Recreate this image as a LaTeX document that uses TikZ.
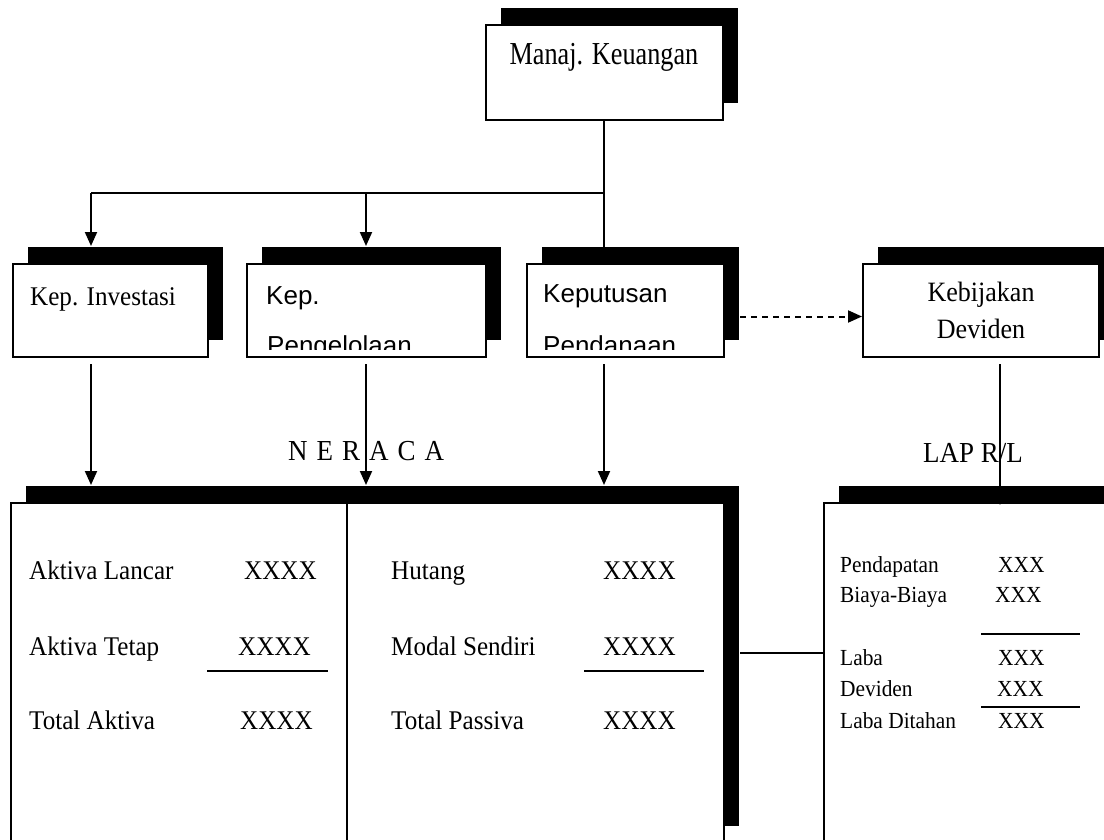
\documentclass[tikz,border=0pt]{standalone}
\usepackage{fontspec}
\setmainfont{Liberation Serif}[FakeStretch=0.93]
\newfontfamily\narrowfam{Liberation Serif}[FakeStretch=0.82]
\newfontfamily\sansfam{Liberation Sans}
\usetikzlibrary{arrows.meta,shadows,calc}

\newcommand{\fsz}[1]{\fontsize{#1}{#1}\selectfont}

\begin{document}
\begin{tikzpicture}[x=1pt,y=-1pt,
  line/.style={line width=2pt},
  arr/.style={line width=2pt,-{Triangle[length=14pt,width=12pt]}},
  card/.style={draw,line width=2pt,fill=white,anchor=north west,inner sep=0pt,
    drop shadow={shadow xshift=15pt,shadow yshift=17pt,fill=black,opacity=1}},
  lbl/.style={anchor=base west,inner sep=0pt,font=\fsz{27}},
  slbl/.style={anchor=base west,inner sep=0pt,font=\sansfam\fsz{26}},
  clbl/.style={anchor=base,inner sep=0pt,font=\fsz{28}},
  rl/.style={anchor=base west,inner sep=0pt,font=\fsz{23}},
  head/.style={anchor=base west,inner sep=0pt,font=\fsz{29}},
  rule/.style={line width=2.8pt}
]
\clip (0,0) rectangle (1104,840);

% boxes with their black drop shadows
\node[card,minimum width=237pt,minimum height=95pt] (mk) at (485,24) {};
\node[card,minimum width=195pt,minimum height=93pt] (inv) at (12,263) {};
\node[card,minimum width=239pt,minimum height=93pt] (peng) at (246,263) {};
\node[card,minimum width=197pt,minimum height=93pt] (kep) at (526,263) {};
\node[card,minimum width=236pt,minimum height=93pt] (keb) at (862,263) {};
\node[card,minimum width=713pt,minimum height=340pt] (neraca) at (10,502) {};
\node[card,minimum width=300pt,minimum height=340pt] (lap) at (823,502) {};

% box titles
\node[anchor=base,inner sep=0pt,font=\narrowfam\fsz{32}] (tmk) at (604,65) {Manaj. Keuangan};
\node[lbl] (tinv) at (30,305) {Kep. Investasi};
\node[slbl] (tpeng) at (266,304) {Kep.};
\node[slbl] (tkep) at (543,302) {Keputusan};
\node[clbl] (tkeb1) at (981,301) {Kebijakan};
\node[clbl] (tkeb2) at (981,338) {Deviden};

% second lines, cut off a little above the lower box edge
\begin{scope}
  \clip ([shift={(1pt,-1pt)}]peng.north west) rectangle ([shift={(-1pt,9pt)}]peng.south east);
  \node[slbl] (tpeng2) at (267,354) {Pengelolaan};
\end{scope}
\begin{scope}
  \clip ([shift={(1pt,-1pt)}]kep.north west) rectangle ([shift={(-1pt,9pt)}]kep.south east);
  \node[slbl] (tkep2) at (543,354) {Pendanaan};
\end{scope}

% section headings
\node[head] (hner) at (288,460) {\spaceskip=9pt\relax N E R A C A};
\node[head] (hlap) at (923,462) {LAP R/L};

% connectors from the top box
\coordinate (j) at (604,193);
\coordinate (c1) at (91,193);
\coordinate (c2) at (366,193);
\coordinate (c4) at (1000,0);
\draw[line] (mk.south -| j) -- (j);
\draw[arr] (j) -- (kep.north -| j);
\draw[line] (j) -- (c1);
\draw[arr] (c1) -- ([yshift=17pt]inv.north -| c1);
\draw[arr] (c2) -- ([yshift=17pt]peng.north -| c2);

% connectors down to the statements
\draw[arr,shorten <=6pt] (inv.south -| c1) -- ([yshift=17pt]neraca.north -| c1);
\draw[arr,shorten <=6pt] (peng.south -| c2) -- ([yshift=17pt]neraca.north -| c2);
\draw[arr,shorten <=6pt] (kep.south -| j) -- ([yshift=17pt]neraca.north -| j);
\draw[arr,shorten <=6pt] (keb.south -| c4) -- ([yshift=-3pt]lap.north -| c4);
\draw[arr,dashed,dash pattern=on 6pt off 5pt] ([xshift=15pt,yshift=-6pt]kep.east) -- ([yshift=-6pt]keb.west);
\draw[line] ([xshift=15pt,yshift=-151pt]neraca.north east) -- ([yshift=-151pt]lap.north west);

% balance sheet
\coordinate (div) at (347,0);
\draw[line] (neraca.north -| div) -- (neraca.south -| div);
\node[lbl] (al) at (29,579) {Aktiva Lancar};
\node[lbl] (alv) at (244,579) {XXXX};
\node[lbl] (at) at (29,655) {Aktiva Tetap};
\node[lbl] (atv) at (238,655) {XXXX};
\node[lbl] (ta) at (29,729) {Total Aktiva};
\node[lbl] (tav) at (240,729) {XXXX};
\node[lbl] (hu) at (391,579) {Hutang};
\node[lbl] (huv) at (603,579) {XXXX};
\node[lbl] (ms) at (391,655) {Modal Sendiri};
\node[lbl] (msv) at (603,655) {XXXX};
\node[lbl] (tp) at (391,729) {Total Passiva};
\node[lbl] (tpv) at (603,729) {XXXX};
\draw[rule] (207,671) -- (328,671);
\draw[rule] (584,671) -- (704,671);

% income statement
\node[rl] (pd) at (840,572) {Pendapatan};
\node[rl] (pdv) at (998,572) {XXX};
\node[rl] (bb) at (840,602) {Biaya-Biaya};
\node[rl] (bbv) at (995,602) {XXX};
\draw[rule] (981,634) -- (1080,634);
\node[rl] (lb) at (840,665) {Laba};
\node[rl] (lbv) at (998,665) {XXX};
\node[rl] (dv) at (840,696) {Deviden};
\node[rl] (dvv) at (997,696) {XXX};
\draw[rule] (981,707) -- (1080,707);
\node[rl] (ld) at (840,728) {Laba Ditahan};
\node[rl] (ldv) at (998,728) {XXX};
\end{tikzpicture}
\end{document}
